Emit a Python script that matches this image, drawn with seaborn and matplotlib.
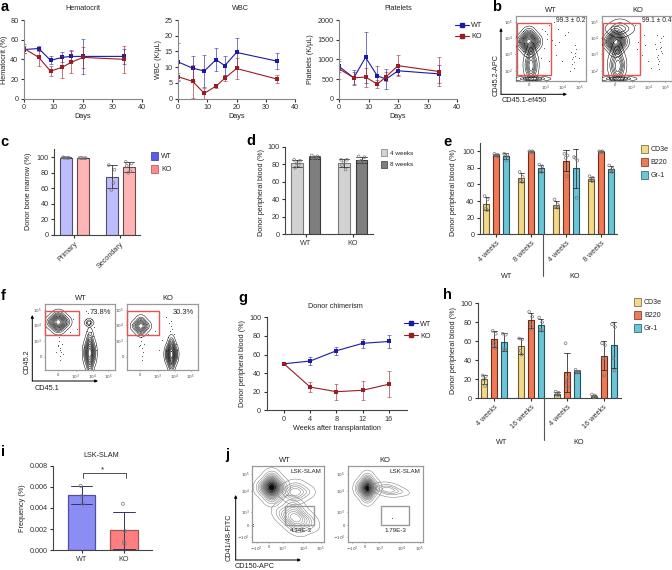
import warnings
import numpy as np
import pandas as pd
import matplotlib
matplotlib.use('Agg')
import matplotlib.pyplot as plt
from matplotlib.lines import Line2D
from matplotlib.patches import Patch, Rectangle, FancyArrowPatch
import seaborn as sns

warnings.filterwarnings('ignore')

W, H = 672, 570

# --- a: blood counts
days = [0, 5, 9, 13, 16, 20, 34]
hct_wt = [50, 51, 39, 42, 43, 43, 43]
hct_wt_err = [4, 2.5, 4, 5, 6, 18, 8]
hct_ko = [51, 42, 28, 32, 37, 42, 40]
hct_ko_err = [4.5, 9, 5, 11, 11, 11, 14]
wbc_wt = [11.7, 9.7, 8.8, 12.4, 10.5, 14.7, 11.9]
wbc_wt_err = [6, 4, 5.2, 3.7, 3, 4.5, 2.6]
wbc_ko = [7, 5.5, 1.7, 4, 6.5, 9.6, 6.2]
wbc_ko_err = [1.2, 5.3, 1.8, 0.5, 0.9, 3.4, 1.2]
plt_wt = [820, 530, 1050, 580, 500, 710, 630]
plt_wt_err = [130, 190, 640, 240, 260, 120, 220]
plt_ko = [760, 530, 550, 370, 560, 840, 690]
plt_ko_err = [260, 160, 240, 100, 110, 260, 370]

# --- c: donor bone marrow replicates
c_groups = ['Primary', 'Secondary']
c_hues = ['WT', 'KO']
c_reps = [[[100, 99.5, 99.5, 99, 99.5], [99.5, 99, 99, 98.5, 99]],
          [[90, 84, 58, 67], [94, 92, 80, 82, 89]]]

# --- d: donor peripheral blood replicates
d_groups = ['WT', 'KO']
d_hues = ['4 weeks', '8 weeks']
d_reps = [[[85, 84, 81, 79, 76], [90, 89, 88, 86, 87]],
          [[85, 85, 82, 74, 79], [89, 88, 84, 81, 83]]]

# --- e
lineages = ['CD3e', 'B220', 'Gr-1']
e_groups = ['4 weeks', '8 weeks', '4 weeks ', '8 weeks ']
e_reps = [[[46, 42, 31, 29], [97, 96, 95, 94], [97, 96, 94, 89]],
          [[75, 69, 65, 63], [100, 100, 99.5, 99], [84, 82, 77, 75]],
          [[42, 36, 33, 32], [97, 95, 92, 70], [93, 89, 92, 44]],
          [[70, 68, 66, 64], [100, 100, 99.5, 99], [83, 79, 76, 75]]]

# --- g: chimerism
weeks = [0, 4, 8, 12, 16]
chim_wt = [50, 53, 64, 72, 74]
chim_wt_err = [0, 4.5, 4.5, 5, 7]
chim_ko = [50, 25, 20, 21.5, 28]
chim_ko_err = [0, 5.5, 8.5, 10, 14]

# --- h
h_groups = ['4 weeks', '16 weeks', '4 weeks ', '16 weeks ']
h_reps = [[[24, 23, 20, 13], [71, 68, 58, 53], [68, 67, 52, 51]],
          [[63, 62, 50, 46], [91, 86, 78, 73], [85, 80, 72, 71]],
          [[7, 6, 4, 3], [58, 22, 17, 12], [30, 28, 28, 27]],
          [[4, 3, 2, 1], [58, 56, 42, 24], [78, 75, 42, 29]]]

# --- i: LSK-SLAM
i_groups = ['WT', 'KO']
i_reps = [[0.0061, 0.0044, 0.0051], [0.0044, 0.0018, 0.0008, 0.0006]]

# --- flow plots, events as % of the plot width / height
b_wt_main = ([19, 10, 28, 19, 19, 19], [60, 60, 60, 71, 49, 60])
b_wt_tail = ([17, 27, 22, 22, 22], [24, 24, 40, 10, 24])
b_wt_base = ([14, 34, 24, 24], [3, 3, 1, 5])
b_wt_dots_x = [82, 84, 80, 83, 86, 81, 85, 79, 83, 70, 60, 52, 47, 56, 66, 44, 50, 62, 74, 90, 55, 48, 42, 58, 78, 84, 38, 40, 36, 45]
b_wt_dots_y = [37, 42, 33, 28, 48, 25, 38, 44, 20, 70, 80, 62, 85, 55, 30, 72, 46, 60, 75, 35, 90, 30, 76, 40, 15, 55, 80, 50, 35, 64]
b_ko_main = ([20, 11, 29, 20, 20, 20], [60, 60, 60, 71, 49, 60])
b_ko_tail = ([16, 28, 22, 22, 23], [24, 24, 42, 10, 24])
b_ko_top = ([18, 34, 26, 26], [80, 80, 86, 75])
b_ko_base = ([14, 34, 24, 24], [3, 3, 1, 5])
b_ko_dots_x = [81, 84, 79, 82, 85, 80, 83, 78, 86, 82, 60, 55, 52, 50, 48, 66, 70, 58, 76, 88, 84, 80, 83, 79, 55, 62]
b_ko_dots_y = [40, 45, 36, 30, 52, 25, 60, 48, 42, 18, 70, 82, 60, 48, 86, 30, 20, 40, 56, 68, 66, 33, 50, 70, 35, 55]

f_wt_main = ([19, 10, 28, 19, 19, 19], [73, 73, 73, 82, 64, 73])
f_wt_side = ([63, 60, 66, 63, 63], [72, 72, 72, 75, 69])
f_wt_col = ([64, 59, 69, 64, 64, 64], [26, 26, 26, 44, 8, 26])
f_wt_dots_x = [21, 19, 23, 20, 22, 18, 24, 21, 20, 22, 26, 16, 62, 66, 60, 68, 56, 73, 45, 35, 40, 62, 70, 58]
f_wt_dots_y = [33, 38, 28, 44, 22, 36, 40, 15, 50, 30, 25, 27, 55, 58, 60, 52, 35, 30, 62, 58, 78, 86, 66, 90]
f_ko_main = ([20, 13, 27, 20, 20, 20], [67, 67, 67, 75, 59, 67])
f_ko_col = ([63, 58, 68, 63, 63, 63], [24, 24, 24, 38, 10, 24])
f_ko_dots_x = [21, 19, 23, 20, 22, 18, 24, 21, 20, 62, 60, 64, 61, 63, 58, 66, 40, 45, 30, 50, 55, 70]
f_ko_dots_y = [33, 38, 28, 44, 22, 36, 40, 15, 50, 67, 72, 62, 60, 75, 50, 55, 60, 30, 55, 45, 80, 40]

j_wt_main = ([27, 15, 39, 27, 27, 27], [72, 72, 72, 84, 60, 72])
j_wt_lobe = ([60, 50, 72, 60, 60], [66, 66, 66, 73, 59])
j_wt_low = ([60, 44, 76, 58, 60, 60], [33, 36, 28, 47, 22, 33])
j_ko_main = ([26, 17, 35, 26, 26, 26], [71, 71, 71, 82, 60, 71])
j_ko_lobe = ([54, 44, 66, 54, 54], [69, 70, 67, 73, 65])
j_wt_edge_x = [0.6, 0.6, 22, 23]
j_wt_edge_y = [22, 23.5, 0.6, 0.6]
j_ko_edge_x = [0.6, 0.6, 22, 24, 58]
j_ko_edge_y = [22, 23.5, 0.6, 0.6, 32]

blue, red = '#1a1aa8', '#9c1c24'
lin_colors = ['#f2d98a', '#ef7a55', '#6cc5d6']
lin_edges = ['#6b5d2a', '#6b2d1c', '#1e5560']

sns.set_theme(style='ticks', rc={'axes.linewidth': 0.8, 'xtick.major.width': 0.8, 'ytick.major.width': 0.8,
                                 'xtick.major.size': 2.5, 'ytick.major.size': 2.5, 'xtick.major.pad': 1.5,
                                 'ytick.major.pad': 1.5, 'xtick.labelsize': 5.2, 'ytick.labelsize': 5.2,
                                 'axes.labelsize': 5.2, 'axes.edgecolor': '#444444',
                                 'xtick.color': '#333333', 'ytick.color': '#333333', 'text.color': '#222222',
                                 'axes.labelcolor': '#222222'})
plt.rcParams['font.family'] = ['Liberation Sans', 'DejaVu Sans']

fig = plt.figure(figsize=(W / 100, H / 100), dpi=100)


def place(x0, x1, ytop, ybot):
    return fig.add_axes([x0 / W, 1 - ybot / H, (x1 - x0) / W, (ybot - ytop) / H])


def txt(x, y, s, size=5.2, ha='center', va='center', **kw):
    fig.text(x / W, 1 - y / H, s, fontsize=size, ha=ha, va=va, **kw)


def axis_labels(ax, xpx=None, ylabel=None, ypx=None, xlabel=None, xlabel_y=None):
    # px positions are label centres, labels anchor on their edge so shift by half a line
    box = ax.get_position()
    if ylabel:
        ax.set_ylabel(ylabel)
        ax.yaxis.set_label_coords(((xpx + 3.5) / W - box.x0) / box.width, 0.5 if ypx is None else ((1 - ypx / H) - box.y0) / box.height)
    if xlabel:
        ax.set_xlabel(xlabel)
        ax.xaxis.set_label_coords(0.5, ((1 - (xlabel_y - 3.5) / H) - box.y0) / box.height)


def lines(ax, x, series, ms=3.2):
    for y, err, color in series:
        ax.errorbar(x, y, yerr=err, fmt='none', ecolor=color, elinewidth=0.7, capsize=1.4, capthick=0.6, alpha=0.6)
        sns.lineplot(x=x, y=y, ax=ax, color=color, marker='s', markersize=ms, markeredgewidth=0,
                     linewidth=0.8, errorbar=None, legend=False)
    sns.despine(ax=ax)


def line_legend(x, y, dy):
    handles = [Line2D([], [], color=c, marker='s', markersize=3, linewidth=0.8) for c in (blue, red)]
    fig.legend(handles, ['WT', 'KO'], loc='upper left', bbox_to_anchor=(x / W, 1 - y / H), frameon=False,
               fontsize=5.2, handlelength=1.9, handletextpad=0.3, labelspacing=dy, borderpad=0, borderaxespad=0)


def box_legend(x, y, labels, colors, edges, dy, size=5):
    handles = [Patch(facecolor=c, edgecolor=e, linewidth=0.5) for c, e in zip(colors, edges)]
    fig.legend(handles, labels, loc='upper left', bbox_to_anchor=(x / W, 1 - y / H), frameon=False, fontsize=size,
               handlelength=1.05, handleheight=1.3, handletextpad=0.4, labelspacing=dy, borderpad=0, borderaxespad=0)


JIT = [-0.26, 0.24, -0.04, 0.14, -0.18]


def grouped_bars(ax, groups, hues, reps, colors, edges, width, gap, lim, cap=0.45):
    rows = []
    for g, per_hue in zip(groups, reps):
        for h, vals in zip(hues, per_hue):
            rows += [{'group': g, 'hue': h, 'value': v} for v in vals]
    df = pd.DataFrame(rows)
    sns.barplot(data=df, x='group', y='value', hue='hue', order=groups, hue_order=hues, palette=colors,
                width=width, gap=gap, errorbar='sd', capsize=cap, saturation=1, legend=False, ax=ax,
                err_kws={'color': '#333333', 'linewidth': 0.6})
    k = 0
    for hi in range(len(hues)):
        for gi in range(len(groups)):
            bar = ax.patches[k]
            k += 1
            bar.set_edgecolor(edges[hi])
            bar.set_linewidth(0.8)
            vals = reps[gi][hi]
            cx = bar.get_x() + bar.get_width() / 2
            xs = [cx + JIT[n % 5] * bar.get_width() for n in range(len(vals))]
            ax.scatter(xs, vals, s=4, facecolor='none', edgecolor='#777777', linewidth=0.5, zorder=5, clip_on=False)
    ax.set_xlim(*lim)
    ax.set_xlabel('')
    sns.despine(ax=ax)


def flow(box, title, title_x, title_y, clusters, dots, gate, xt, yt, dark='black', fill=False):
    ax = place(*box)
    if dots is not None:
        ax.scatter(dots[0], dots[1], s=0.5, color='#555555', linewidth=0, zorder=2, clip_on=True)
    for n, (pts, lev, bw) in enumerate(clusters):
        if fill and n == 0:
            sns.kdeplot(x=pts[0], y=pts[1], ax=ax, fill=True, cmap='Greys', levels=14, thresh=0.2, bw_adjust=bw, gridsize=80, zorder=1)
        sns.kdeplot(x=pts[0], y=pts[1], ax=ax, color=dark, levels=lev, thresh=0.04, bw_adjust=bw,
                    linewidths=0.35, gridsize=80, zorder=3)
    ax.set_xlim(0, 100)
    ax.set_ylim(0, 100)
    ax.set_xlabel('')
    ax.set_ylabel('')
    ax.set_xticks(xt[0], xt[1])
    ax.set_yticks(yt[0], yt[1])
    ax.tick_params(length=1, width=0.4, labelsize=3, pad=1, colors='#444444')
    for s in ax.spines.values():
        s.set_color('#999999')
        s.set_linewidth(0.9)
    if gate:
        ax.add_patch(Rectangle((gate[0], gate[1]), gate[2], gate[3], fill=False, edgecolor=gate[4], linewidth=gate[5], zorder=6, clip_on=False))
    txt(title_x, title_y, title, size=5.4)
    return ax


def arrow(x0, y0, x1, y1):
    fig.add_artist(FancyArrowPatch((x0 / W, 1 - y0 / H), (x1 / W, 1 - y1 / H), transform=fig.transFigure,
                                   arrowstyle='-|>', mutation_scale=4, linewidth=0.7, color='black', shrinkA=0, shrinkB=0))


def vline(x, y0, y1):
    fig.add_artist(Line2D([x / W, x / W], [1 - y0 / H, 1 - y1 / H], transform=fig.transFigure, color='#555555', linewidth=0.8))


# panel letters
for s, x, y in [('a', 5, 7), ('b', 497, 7), ('c', 4, 142), ('d', 251, 141), ('e', 447, 142), ('f', 3, 296),
                ('g', 243, 298), ('h', 447, 295), ('i', 3, 452), ('j', 227, 455)]:
    txt(x, y, s, size=10.5, weight='bold', color='black')

# ---- a
a_panels = [(24, 142, 'Hematocrit', 'Hematocrit (%)', 4.5, 83, [0, 20, 40, 60, 80], hct_wt, hct_wt_err, hct_ko, hct_ko_err),
            (178, 295, 'WBC', 'WBC (K/µL)', 158, 240, [0, 5, 10, 15, 20, 25], wbc_wt, wbc_wt_err, wbc_ko, wbc_ko_err),
            (339, 457, 'Platelets', 'Platelets (K/µL)', 311, 398, [0, 500, 1000, 1500, 2000], plt_wt, plt_wt_err, plt_ko, plt_ko_err)]
for x0, x1, title, yl, ylx, tx, yt, wt, wte, ko, koe in a_panels:
    ax = place(x0, x1, 20, 98.7)
    lines(ax, days, [(wt, wte, blue), (ko, koe, red)])
    ax.set_xlim(0, 40)
    ax.set_ylim(yt[0], yt[-1])
    ax.set_xticks([0, 10, 20, 30, 40])
    ax.set_yticks(yt)
    for sp in ax.spines.values():
        sp.set_color('#888888')
    axis_labels(ax, ylx, yl, None, 'Days', 116)
    txt(tx, 8.7, title)
line_legend(455, 22, 0.6)

# ---- b
bio_x = ([19.5, 43, 67, 91], ['0', '$10^3$', '$10^4$', '$10^5$'])
bio_y = ([15.5, 41, 66, 91], ['$10^2$', '$10^3$', '$10^4$', '$10^5$'])
flow((515.7, 585.7, 15.7, 80.7), 'WT', 551, 10,
     [(b_wt_main, 14, 1.3), (b_wt_tail, 7, 1.2), (b_wt_base, 5, 1.2)],
     (b_wt_dots_x, b_wt_dots_y), (2, 9, 48, 80, '#e25555', 1.0), bio_x, bio_y)
flow((601.7, 671.7, 15.7, 80.7), 'KO', 637.7, 10,
     [(b_ko_main, 14, 1.3), (b_ko_tail, 7, 1.2), (b_ko_top, 4, 1.2), (b_ko_base, 5, 1.2)],
     (b_ko_dots_x, b_ko_dots_y), (1.5, 9, 53, 80, '#e25555', 1.0), bio_x, bio_y)
txt(585, 20, '99.3 ± 0.2', ha='right', size=4.8)
txt(671, 20, '99.1 ± 0.4', ha='right', size=4.8)
arrow(501, 94.3, 501, 28)
arrow(501, 94.3, 567, 94.3)
txt(495.7, 75, 'CD45.2-APC', rotation=90)
txt(502, 100.5, 'CD45.1-ef450', ha='left')

# ---- c
ax = place(54.3, 140, 149.5, 235)
grouped_bars(ax, c_groups, c_hues, c_reps, ['#bcbcff', '#ffb5b5'], ['#50506a', '#6b4a4a'], 0.74, 0.32, (-0.44, 1.43))
ax.set_ylim(0, 110)
ax.set_yticks(range(0, 101, 20))
ax.set_xticks([0, 1], c_groups, rotation=45, ha='right', rotation_mode='anchor')
axis_labels(ax, 28, 'Donor bone marrow (%)', 191.7)
box_legend(151, 152, c_hues, ['#5a5af0', '#ff8a8a'], ['#33338a', '#a05050'], 0.75)

# ---- d
ax = place(285.3, 373, 146.7, 234.3)
grouped_bars(ax, d_groups, d_hues, d_reps, ['#d2d2d2', '#7f7f7f'], ['#7a7a7a', '#3a3a3a'], 0.75, 0.35, (-0.44, 1.43))
ax.set_ylim(0, 100)
ax.set_yticks(range(0, 101, 20))
ax.set_xticks([0, 1], d_groups)
axis_labels(ax, 261.7, 'Donor peripheral blood (%)', 193)
box_legend(380.7, 149, d_hues, ['#d2d2d2', '#7f7f7f'], ['#7a7a7a', '#3a3a3a'], 0.75, size=4.6)

# ---- e
ax = place(480, 617.3, 143, 234.3)
grouped_bars(ax, e_groups, lineages, e_reps, lin_colors, lin_edges, 0.84, 0.36, (-0.457, 3.466))
ax.set_ylim(0, 110)
ax.set_yticks(range(0, 101, 20))
ax.set_xticks(range(4), [g.strip() for g in e_groups], rotation=45, ha='right', rotation_mode='anchor')
axis_labels(ax, 454, 'Donor peripheral blood (%)', 193)
vline(543.3, 234.3, 276)
txt(507, 276, 'WT')
txt(574.7, 276, 'KO')
box_legend(640.7, 145, lineages, lin_colors, lin_edges, 0.72)

# ---- f
f_x = ([18.5, 44, 68, 90], ['0', '$10^3$', '$10^4$', '$10^5$'])
f_y = ([20, 44, 69, 91], ['0', '$10^3$', '$10^4$', '$10^5$'])
flow((45, 115, 304.3, 370), 'WT', 81, 298,
     [(f_wt_main, 12, 1.3), (f_wt_side, 4, 1.2), (f_wt_col, 11, 1.25)],
     (f_wt_dots_x, f_wt_dots_y), (0, 53, 48, 37, '#e25555', 1.0), f_x, f_y)
flow((126.7, 197.7, 304.3, 370), 'KO', 167.7, 298,
     [(f_ko_main, 9, 1.25), (f_ko_col, 13, 1.25)],
     (f_ko_dots_x, f_ko_dots_y), (0, 53, 46, 37, '#e25555', 1.0), f_x, f_y)
txt(100.7, 312.7, '73.8%', size=5.4)
txt(183, 312.7, '30.3%', size=5.4)
arrow(32.3, 381, 32.3, 315)
arrow(32.3, 381, 98, 381)
txt(26.7, 362, 'CD45.2', rotation=90)
txt(35, 388, 'CD45.1', ha='left')

# ---- g
ax = place(266.7, 406.7, 317.3, 410.3)
lines(ax, weeks, [(chim_wt, chim_wt_err, blue), (chim_ko, chim_ko_err, red)])
ax.set_xlim(-2.64, 18.75)
ax.set_ylim(0, 100)
ax.set_xticks(weeks)
ax.set_yticks(range(0, 101, 20))
axis_labels(ax, 243, 'Donor peripheral blood (%)', None, 'Weeks after transplantation', 428)
txt(335, 306.7, 'Donor chimerism')
line_legend(404, 320.5, 0.75)

# ---- h
ax = place(477.7, 621, 303.3, 398.3)
grouped_bars(ax, h_groups, lineages, h_reps, lin_colors, lin_edges, 0.825, 0.4, (-0.456, 3.48))
ax.set_ylim(0, 100)
ax.set_yticks(range(0, 101, 20))
ax.set_xticks(range(4), [g.strip() for g in h_groups], rotation=45, ha='right', rotation_mode='anchor')
axis_labels(ax, 453.3, 'Donor peripheral blood (%)', 350)
vline(544.3, 398.3, 440)
txt(501.7, 442, 'WT')
txt(578.3, 442, 'KO')
box_legend(634, 298, lineages, lin_colors, lin_edges, 0.72)

# ---- i
ax = place(53.3, 152.3, 465.7, 550.3)
df_i = pd.DataFrame({'group': [g for g, r in zip(i_groups, i_reps) for _ in r],
                     'value': [v for r in i_reps for v in r]})
sns.barplot(data=df_i, x='group', y='value', hue='group', order=i_groups, hue_order=i_groups,
            palette=['#8c8cf5', '#ff7f7f'], width=0.647, errorbar='sd', capsize=0.5, saturation=1, legend=False, ax=ax,
            err_kws={'color': '#333366', 'linewidth': 0.7})
for n, bar in enumerate(ax.patches):
    bar.set_edgecolor(['#50509a', '#a05555'][n])
    bar.set_linewidth(0.9)
    cx = bar.get_x() + bar.get_width() / 2
    ax.scatter([cx + JIT[k % 5] * 0.1 for k in range(len(i_reps[n]))], i_reps[n], s=5, facecolor='none',
               edgecolor='#777777', linewidth=0.5, zorder=5)
ax.set_xlim(-0.675, 1.67)
ax.set_ylim(0, 0.008)
ax.set_yticks([0, 0.002, 0.004, 0.006, 0.008], ['0.000', '0.002', '0.004', '0.006', '0.008'])
ax.set_xlabel('')
sns.despine(ax=ax)
ax.plot([0.03, 0.03, 1.04, 1.04], [0.00681, 0.00728, 0.00728, 0.00681], color='#333333', linewidth=0.6)
ax.text(0.5, 0.0073, '*', ha='center', va='bottom', fontsize=6)
axis_labels(ax, 22, 'Frequency (%)', 508)
txt(101, 455.7, 'LSK-SLAM')

# ---- j
j_x = ([6, 23.5, 42, 71, 95], ['$-10^3$', '0', '$10^3$', '$10^4$', '$10^5$'])
j_y = ([7.5, 22.5, 40, 67, 90], ['$-10^3$', '0', '$10^3$', '$10^4$', '$10^5$'])
flow((252.3, 324.3, 466, 542.3), 'WT', 285, 461,
     [(j_wt_main, 12, 1.25), (j_wt_lobe, 6, 1.3), (j_wt_low, 9, 1.2)],
     (j_wt_edge_x, j_wt_edge_y), (46, 22.5, 40, 24.5, '#999999', 1.0), j_x, j_y, dark='#777777', fill=True)
flow((347.7, 423.3, 466, 542.3), 'KO', 385, 461,
     [(j_ko_main, 12, 1.25), (j_ko_lobe, 5, 1.3)],
     (j_ko_edge_x, j_ko_edge_y), (44, 22.5, 37, 24.5, '#999999', 1.0), j_x, j_y, dark='#777777', fill=True)
txt(321, 471.7, 'LSK-SLAM', ha='right', size=4.5)
txt(420, 471.7, 'LSK-SLAM', ha='right', size=4.5)
txt(311.7, 531, '4.34E-3', ha='right', size=4.5)
txt(406.7, 531, '1.79E-3', ha='right', size=4.5)
arrow(235.7, 560, 235.7, 495)
arrow(235.7, 560, 301, 560)
txt(229, 537, 'CD41/48-FITC', rotation=90)
txt(235, 566.5, 'CD150-APC', ha='left')

fig.savefig('out.png', dpi=100)
